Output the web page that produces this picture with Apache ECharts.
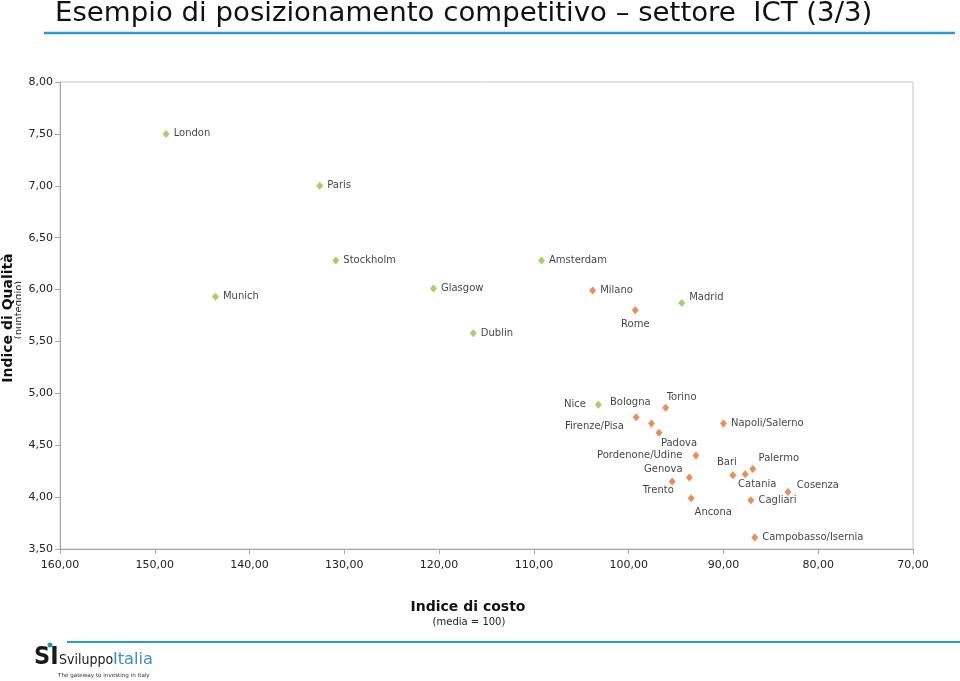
<!DOCTYPE html>
<html><head><meta charset="utf-8">
<script src="https://cdn.jsdelivr.net/npm/echarts@6/dist/echarts.min.js"></script>
<style>html,body{margin:0;padding:0;background:#fff}#c{width:960px;height:681px}</style>
</head><body><div id="c"></div>
<script>
// ---- data ----
const europeCities  = ['London','Paris','Stockholm','Amsterdam','Munich','Glasgow','Dublin','Madrid','Nice'];
const europeCost    = [148.8, 132.6, 130.9, 109.2, 143.6, 120.6, 116.4, 94.4, 103.2];
const europeQuality = [7.50, 7.00, 6.28, 6.28, 5.93, 6.01, 5.58, 5.87, 4.89];

const italyCities  = ['Milano','Rome','Bologna','Torino','Firenze/Pisa','Padova','Pordenone/Udine','Genova','Trento','Ancona','Napoli/Salerno','Bari','Catania','Palermo','Cosenza','Cagliari','Campobasso/Isernia'];
const italyCost    = [103.8, 99.3, 99.2, 96.1, 97.6, 96.8, 92.9, 93.6, 95.4, 93.4, 90.0, 89.0, 87.7, 86.9, 83.2, 87.1, 86.7];
const italyQuality = [5.99, 5.80, 4.77, 4.86, 4.71, 4.62, 4.40, 4.19, 4.15, 3.99, 4.71, 4.21, 4.22, 4.27, 4.05, 3.97, 3.61];

const xTicks = [160, 150, 140, 130, 120, 110, 100, 90, 80, 70];
const yTicks = [3.5, 4.0, 4.5, 5.0, 5.5, 6.0, 6.5, 7.0, 7.5, 8.0];

// ---- label placement (style) ----
const labelPlacement = {
  'Madrid': {position: 'right', offset: [0, -6]},
  'Rome': {position: 'inside', offset: [0, 14]},
  'Nice': {position: 'left', distance: 9},
  'Firenze/Pisa': {position: 'left', distance: 24, offset: [0, 3]},
  'Pordenone/Udine': {position: 'left', distance: 10},
  'Bologna': {position: 'inside', offset: [-6, -15]},
  'Torino': {position: 'inside', offset: [16, -10]},
  'Padova': {position: 'inside', offset: [20, 11]},
  'Genova': {position: 'inside', offset: [-26, -8]},
  'Trento': {position: 'inside', offset: [-14, 9]},
  'Ancona': {position: 'inside', offset: [22, 14]},
  'Bari': {position: 'inside', offset: [-6, -13]},
  'Catania': {position: 'inside', offset: [12, 10]},
  'Palermo': {position: 'inside', offset: [26, -11]},
  'Cosenza': {position: 'inside', offset: [30, -7]}
};

function buildPoints(names, xs, ys) {
  return names.map((n, i) => {
    const p = labelPlacement[n] || {};
    return {
      name: n,
      value: [xs[i], ys[i]],
      label: {
        position: p.position || 'right',
        distance: p.distance != null ? p.distance : 4,
        offset: p.offset || [0, 0]
      }
    };
  });
}

const fmt = v => v.toFixed(2).replace('.', ',');
const labelFont = {fontFamily: 'DejaVu Sans', fontSize: 10, color: '#111'};

const chart = echarts.init(document.getElementById('c'), null, {renderer: 'canvas'});
chart.setOption({
  backgroundColor: '#fff',
  animation: false,
  grid: {left: 60, right: 47, top: 82, bottom: 132, show: true, borderColor: '#c4c4c4', borderWidth: 1},
  xAxis: {
    type: 'value', inverse: true,
    min: Math.min(...xTicks), max: Math.max(...xTicks), interval: xTicks[0] - xTicks[1],
    axisLine: {lineStyle: {color: '#a8a8a8'}},
    axisTick: {show: true, inside: false, length: 5, lineStyle: {color: '#a8a8a8'}},
    splitLine: {show: false},
    axisLabel: {formatter: fmt, margin: 11, fontFamily: 'DejaVu Sans', fontSize: 11, color: '#222'}
  },
  yAxis: {
    type: 'value',
    min: yTicks[0], max: yTicks[yTicks.length - 1], interval: yTicks[1] - yTicks[0],
    axisLine: {show: true, lineStyle: {color: '#a8a8a8'}},
    axisTick: {show: true, inside: false, length: 5, lineStyle: {color: '#a8a8a8'}},
    splitLine: {show: false},
    axisLabel: {formatter: fmt, margin: 7, fontFamily: 'DejaVu Sans', fontSize: 11, color: '#222'}
  },
  series: [
    {
      name: 'Europa', type: 'scatter', symbol: 'diamond', symbolSize: [7, 8],
      itemStyle: {color: '#8cc63e'},
      label: Object.assign({show: true, formatter: '{b}'}, labelFont),
      data: buildPoints(europeCities, europeCost, europeQuality)
    },
    {
      name: 'Italia', type: 'scatter', symbol: 'diamond', symbolSize: [7, 8],
      itemStyle: {color: '#e8702a'},
      label: Object.assign({show: true, formatter: '{b}'}, labelFont),
      data: buildPoints(italyCities, italyCost, italyQuality)
    }
  ],
  graphic: [
    {type: 'text', x: 55, y: 14, scaleX: 1.18, style: {text: 'Esempio di posizionamento competitivo \u2013 settore  ICT (3/3)', font: '26px "DejaVu Sans Condensed"', fill: '#111', textVerticalAlign: 'middle'}},
    {type: 'line', shape: {x1: 44, y1: 33, x2: 955, y2: 33}, style: {stroke: '#2a9bd7', lineWidth: 2.5}},
    {type: 'text', x: 8, y: 318, rotation: Math.PI / 2, style: {text: 'Indice di Qualità', font: 'bold 14px "DejaVu Sans"', fill: '#111', textAlign: 'center', textVerticalAlign: 'middle'}},
    {type: 'text', x: 19, y: 310, rotation: Math.PI / 2, style: {text: '(punteggio)', font: '10px "DejaVu Sans"', fill: '#222', textAlign: 'center', textVerticalAlign: 'middle'}},
    {type: 'rect', shape: {x: 21, y: 270, width: 5, height: 80}, style: {fill: '#fff'}},
    {type: 'text', x: 468, y: 607, style: {text: 'Indice di costo', font: 'bold 14px "DejaVu Sans"', fill: '#111', textAlign: 'center', textVerticalAlign: 'middle'}},
    {type: 'text', x: 469, y: 622, style: {text: '(media = 100)', font: '10px "DejaVu Sans"', fill: '#222', textAlign: 'center', textVerticalAlign: 'middle'}},
    {type: 'line', shape: {x1: 67, y1: 642, x2: 960, y2: 642}, style: {stroke: '#2a9bd7', lineWidth: 2}},
    {type: 'text', x: 34, y: 657, style: {text: 'SI', font: 'bold 25px "DejaVu Sans Condensed"', fill: '#1a1a1a', textVerticalAlign: 'middle'}},
    {type: 'circle', shape: {cx: 50, cy: 645, r: 2.5}, style: {fill: '#2a8fcf'}},
    {type: 'text', x: 59, y: 660, style: {text: 'Sviluppo', font: '14px "DejaVu Sans Condensed"', fill: '#1a1a1a', textVerticalAlign: 'middle'}},
    {type: 'text', x: 113, y: 660, scaleX: 1.2, style: {text: 'Italia', font: '15px "DejaVu Sans Condensed"', fill: '#3a8fc4', textVerticalAlign: 'middle'}},
    {type: 'text', x: 58, y: 676, style: {text: 'The gateway to investing in Italy', font: '5.6px "DejaVu Sans"', fill: '#333', textVerticalAlign: 'middle'}}
  ]
});
</script>
</body></html>
